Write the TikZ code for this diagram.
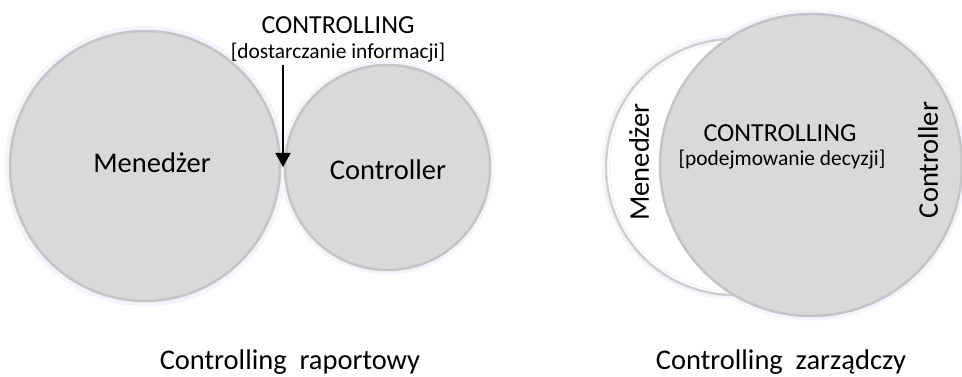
\documentclass[tikz,border=0pt]{standalone}
\usepackage{fontspec}
\setmainfont{Carlito}
\usetikzlibrary{arrows.meta}
\definecolor{circfill}{HTML}{D9D9D9}
\definecolor{circline}{HTML}{C4C4C4}
\definecolor{glow}{HTML}{F2F6FC}
\tikzset{
  graycirc/.style={circle, inner sep=0pt, fill=circfill, draw=circline, line width=2.5pt},
  whitecirc/.style={circle, inner sep=0pt, fill=white, draw=circline!80, line width=2.5pt},
  glowcirc/.style={circle, inner sep=0pt, draw=glow, line width=9pt},
  biglabel/.style={font=\fontsize{28.5}{31}\selectfont, inner sep=0pt},
  headlabel/.style={font=\fontsize{26}{29}\selectfont, inner sep=0pt},
  sublabel/.style={font=\fontsize{21.4}{25}\selectfont, inner sep=0pt},
  arrowline/.style={line width=1.5pt, -{Triangle[width=15pt,length=14pt]}}
}
\begin{document}
\begin{tikzpicture}[x=1pt,y=1pt]
\useasboundingbox (0,0) rectangle (962,377);
% glow
\node[glowcirc, minimum size=272pt] at (145,211) {};
\node[glowcirc, minimum size=205pt] at (387.5,209.5) {};
\node[glowcirc, minimum size=256pt] at (734,210) {};
\node[glowcirc, minimum size=302pt] at (811,212) {};
% left diagram
\node[graycirc, minimum size=270pt] (men1) at (145,211) {};
\node[graycirc, minimum size=205pt] (con1) at (387.5,209.5) {};
\node[biglabel] (men1t) at (152,214) {Menedżer};
\node[biglabel] (con1t) at (388,207) {Controller};
\node[headlabel] (ctl1) at (338,352) {CONTROLLING};
\node[sublabel] (info) at (338,324) {[dostarczanie informacji]};
\coordinate (touch) at (283,210);
\draw[arrowline] (info.south -| touch) ++(0,-2) -- (touch);
\node[biglabel] (cap1) at (290,15) {Controlling\ \ raportowy};
% right diagram
\node[whitecirc, minimum size=256pt] (men2) at (734,210) {};
\draw[white!90!gray, line width=1pt] (734,210) circle (124.5);
\node[graycirc, minimum size=302pt] (con2) at (811,212) {};
\node[biglabel, rotate=90] (men2t) at (639,215) {Menedżer};
\node[headlabel] (ctl2) at (780,244) {CONTROLLING};
\node[sublabel] (dec) at (782,217) {[podejmowanie decyzji]};
\node[biglabel, rotate=90] (con2t) at (928,217) {Controller};
\node[biglabel] (cap2) at (781,15) {Controlling\ \ zarządczy};
\end{tikzpicture}
\end{document}
